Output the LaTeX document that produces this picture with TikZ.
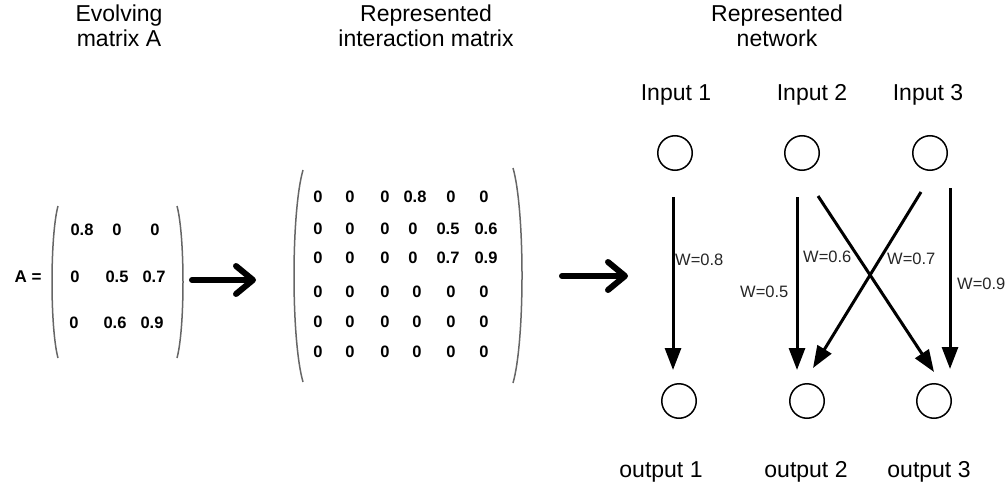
\documentclass[tikz,border=0pt]{standalone}
\usepackage{fontspec}
\setmainfont{Liberation Sans}
\usetikzlibrary{arrows.meta}

\begin{document}
\begin{tikzpicture}[x=1pt,y=-1pt,
  title/.style={font=\fontsize{23}{25}\selectfont, align=center, inner sep=0pt},
  lbl/.style={font=\fontsize{23}{25}\selectfont, inner sep=0pt, anchor=base},
  entry/.style={font=\fontsize{16.5}{18}\selectfont\bfseries, inner sep=0pt},
  weight/.style={font=\fontsize{16.5}{18}\selectfont, text=black!85, inner sep=0pt, anchor=base west},
  neuron/.style={circle, draw, line width=1.5pt, minimum size=34.5pt, inner sep=0pt},
  paren/.style={draw=black!60, line width=1.5pt},
  bigarrow/.style={line width=6pt, line cap=round, -{Straight Barb[round,length=17pt,width=28pt]}},
  link/.style={line width=3pt, -{Triangle[length=22pt,width=16pt]}}
]
\useasboundingbox (0,0) rectangle (1008,489);

% column titles (base anchor sits on the second line)
\node[title, anchor=base] (t1) at (119,47) {Evolving\\matrix A};
\node[title, anchor=base] (t2) at (426,47) {Represented\\interaction matrix};
\node[title, anchor=base] (t3) at (777,47) {Represented\\network};

% matrix A
\node[font=\fontsize{17}{19}\selectfont\bfseries, inner sep=0pt] (aeq) at (28,277) {A =};
\draw[paren] (58,206) .. controls (50,236) and (50,328) .. (58,358);
\draw[paren] (177,206) .. controls (185,236) and (185,328) .. (177,358);
\foreach \x/\y/\v/\n in {82/230/0.8/11, 117/230/0/12, 155/230/0/13,
                         75/277/0/21, 117/277/0.5/22, 154/277/0.7/23,
                         74/323/0/31, 115/323/0.6/32, 152/323/0.9/33}
  \node[entry] (a\n) at (\x,\y) {\v};

% arrow to the interaction matrix
\coordinate (arrAs) at (192,280);
\coordinate (arrAe) at (256,280);
\draw[bigarrow] (arrAs) -- (arrAe);

% interaction matrix
\draw[paren] (303,170) .. controls (291,212) and (291,340) .. (303,382);
\draw[paren] (513,168) .. controls (525,210) and (525,341) .. (513,383);
\foreach \v [count=\c] in {0,0,0,0.8,0,0}
  \node[entry] (m1\c) at ({\c==1?318:(\c==2?350:(\c==3?385:(\c==4?415:(\c==5?451:484))))},197) {\v};
\foreach \v [count=\c] in {0,0,0,0,0.5,0.6}
  \node[entry] (m2\c) at ({\c==1?318:(\c==2?350:(\c==3?385:(\c==4?413:(\c==5?448:486))))},229) {\v};
\foreach \v [count=\c] in {0,0,0,0,0.7,0.9}
  \node[entry] (m3\c) at ({\c==1?318:(\c==2?350:(\c==3?385:(\c==4?413:(\c==5?448:486))))},258) {\v};
\foreach \r/\y in {4/292, 5/322, 6/352}
  \foreach \x [count=\c] in {318,350,385,417,451,484}
    \node[entry] (m\r\c) at (\x,\y) {0};

% arrow to the network
\coordinate (arrBs) at (562,276);
\coordinate (arrBe) at (628,276);
\draw[bigarrow] (arrBs) -- (arrBe);

% network
\node[lbl] (lin1) at (676,101) {Input 1};
\node[lbl] (lin2) at (812,101) {Input 2};
\node[lbl] (lin3) at (928,101) {Input 3};
\node[neuron] (in1) at (675,153) {};
\node[neuron] (in2) at (802,153) {};
\node[neuron] (in3) at (930,153) {};
\node[neuron] (out1) at (679,401) {};
\node[neuron] (out2) at (807,401) {};
\node[neuron] (out3) at (934,401) {};
\node[lbl] (lout1) at (661,477) {output 1};
\node[lbl] (lout2) at (806,477) {output 2};
\node[lbl] (lout3) at (929,477) {output 3};

\coordinate (w1s) at (673,197);  \coordinate (w1e) at (673,370);
\coordinate (w2s) at (797,197);  \coordinate (w2e) at (797,370);
\coordinate (w3s) at (818,196);  \coordinate (w3e) at (934,372);
\coordinate (w4s) at (921,192);  \coordinate (w4e) at (813,368);
\coordinate (w5s) at (950,188);  \coordinate (w5e) at (950,369);
\draw[link] (w1s) -- (w1e);
\draw[link] (w2s) -- (w2e);
\draw[link] (w3s) -- (w3e);
\draw[link] (w4s) -- (w4e);
\draw[link] (w5s) -- (w5e);

\node[weight] (wl1) at (675,265) {W=0.8};
\node[weight] (wl2) at (740,297) {W=0.5};
\node[weight] (wl3) at (803,262) {W=0.6};
\node[weight] (wl4) at (887,264) {W=0.7};
\node[weight] (wl5) at (957,289) {W=0.9};
\end{tikzpicture}
\end{document}
